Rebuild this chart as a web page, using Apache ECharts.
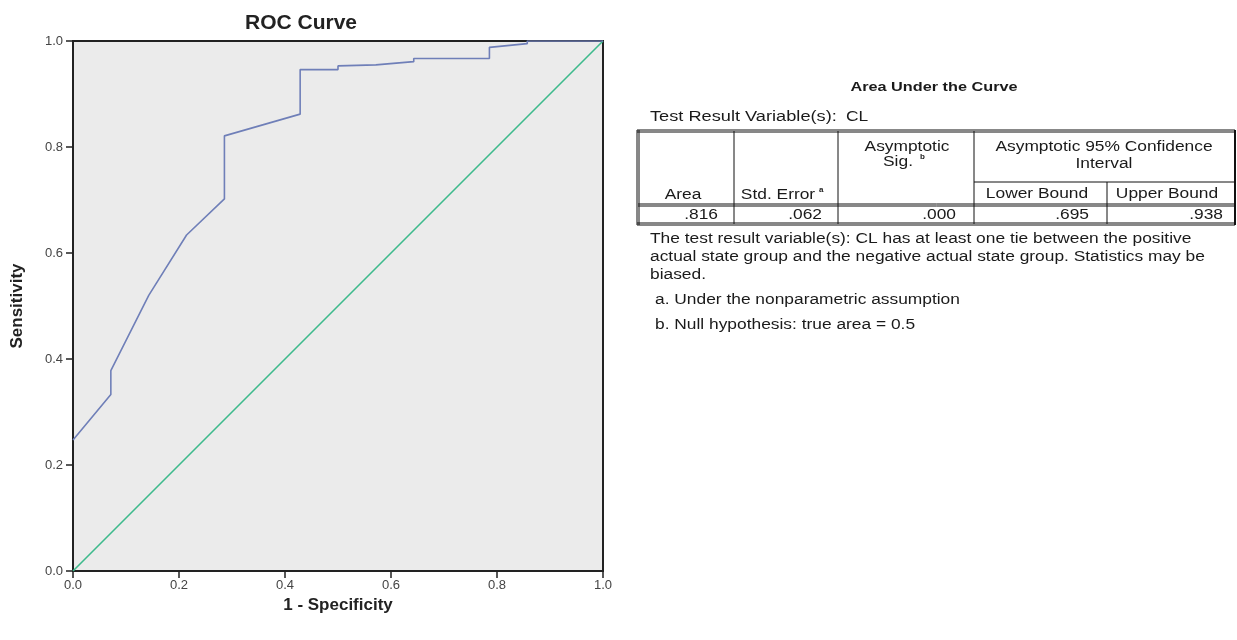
<!DOCTYPE html>
<html>
<head>
<meta charset="utf-8">
<script src="https://cdn.jsdelivr.net/npm/echarts@6/dist/echarts.min.js"></script>
<style>html,body{margin:0;padding:0;background:#fff}#c{width:1237px;height:640px}</style>
</head>
<body>
<div id="c"></div>
<script>
// ROC curve points (1 - specificity, sensitivity)
const rocX = [0, 0.0714, 0.0714, 0.1429, 0.2143, 0.2857, 0.2857, 0.4286, 0.4286, 0.5, 0.5, 0.5714, 0.6429, 0.6429, 0.7857, 0.7857, 0.8571, 0.8571, 1];
const rocY = [0.247, 0.333, 0.378, 0.52, 0.634, 0.702, 0.821, 0.862, 0.946, 0.946, 0.953, 0.955, 0.961, 0.967, 0.967, 0.988, 0.995, 1, 1];
// reference diagonal
const refX = [0, 1];
const refY = [0, 1];
// AUC table
const tableTitle = 'Area Under the Curve';
const testVarLabel = 'Test Result Variable(s):';
const testVar = 'CL';
const tableValues = ['.816', '.062', '.000', '.695', '.938'];
const notes = [
  'The test result variable(s): CL has at least one tie between the positive',
  'actual state group and the negative actual state group. Statistics may be',
  'biased.'
];
const footnotes = ['a. Under the nonparametric assumption', 'b. Null hypothesis: true area = 0.5'];

const FONT = 'Liberation Sans, Arial, sans-serif';
const TC = '#1a1a1a';
const SX = 1.24;
const g = [];
function txt(x, y, s, opt) {
  opt = opt || {};
  g.push({type: 'text', x: x, y: y, scaleX: opt.sx || SX, silent: true, style: {
    text: s, fill: opt.fill || TC, font: (opt.bold ? 'bold ' : '') + (opt.size || 14) + 'px ' + FONT,
    textAlign: opt.align || 'left', textVerticalAlign: 'middle'
  }});
}
function ln(x1, y1, x2, y2, w) {
  g.push({type: 'line', silent: true, shape: {x1: x1, y1: y1, x2: x2, y2: y2}, style: {stroke: '#111', lineWidth: w || 1}});
}
// table geometry
const cols = [638, 734, 838, 974, 1107, 1235];
const T = 131, SUB = 182, HB = 205, DB = 224;
txt(934, 87, tableTitle, {bold: true, size: 13, align: 'center', sx: 1.25});
txt(650, 117, testVarLabel, {sx: 1.3});
txt(846, 117, testVar);
// borders
ln(cols[0] - 1, T - 1, cols[5], T - 1, 1);
ln(cols[0] - 1, T + 1, cols[5], T + 1, 1);
ln(cols[0] - 1, T - 1, cols[0] - 1, DB + 1, 1);
ln(cols[0] + 1, T - 1, cols[0] + 1, DB + 1, 1);
ln(cols[5], T - 1, cols[5], DB + 1, 2);
for (let i = 1; i < 4; i++) ln(cols[i], T, cols[i], DB, 1);
ln(cols[4], SUB, cols[4], DB, 1);
ln(cols[3], SUB, cols[5], SUB, 1);
ln(cols[0], HB - 1, cols[5], HB - 1, 1);
ln(cols[0], HB + 1, cols[5], HB + 1, 1);
ln(cols[0] - 1, DB - 1, cols[5], DB - 1, 1);
ln(cols[0] - 1, DB + 1, cols[5], DB + 1, 1);
// headers
txt(683, 195, 'Area', {align: 'center'});
txt(778, 195, 'Std. Error', {align: 'center'});
txt(819, 190, 'a', {bold: true, size: 8, sx: 1});
txt(907, 147, 'Asymptotic', {align: 'center'});
txt(898, 162, 'Sig.', {align: 'center'});
txt(920, 157, 'b', {bold: true, size: 8, sx: 1});
txt(1104, 147, 'Asymptotic 95% Confidence', {align: 'center'});
txt(1104, 164, 'Interval', {align: 'center'});
txt(1037, 194, 'Lower Bound', {align: 'center'});
txt(1167, 194, 'Upper Bound', {align: 'center'});
const pads = [16, 16, 18, 18, 12];
for (let i = 0; i < 5; i++) txt(cols[i + 1] - pads[i], 215, tableValues[i], {align: 'right'});
notes.forEach((s, i) => txt(650, 239 + i * 18, s));
footnotes.forEach((s, i) => txt(655, 300 + i * 25, s));

const chart = echarts.init(document.getElementById('c'));
chart.setOption({
  backgroundColor: '#fff',
  animation: false,
  title: {text: 'ROC Curve', left: 296, top: 8, textAlign: 'center',
    textStyle: {fontFamily: FONT, fontSize: 21, fontWeight: 'bold', color: '#222'}},
  grid: {left: 73, top: 41, width: 530, height: 530, show: true, backgroundColor: '#ebebeb', borderColor: '#222', borderWidth: 2},
  xAxis: {type: 'value', min: 0, max: 1, interval: 0.2,
    name: '1 - Specificity', nameLocation: 'middle', nameGap: 23,
    nameTextStyle: {fontFamily: FONT, fontSize: 17, fontWeight: 'bold', color: '#222'},
    axisLine: {show: true, lineStyle: {color: '#222', width: 2}},
    axisTick: {show: true, length: 7, lineStyle: {color: '#222', width: 1.5}},
    axisLabel: {formatter: v => v.toFixed(1), fontFamily: FONT, fontSize: 13, color: '#444', margin: 8},
    splitLine: {show: false}},
  yAxis: {type: 'value', min: 0, max: 1, interval: 0.2,
    name: 'Sensitivity', nameLocation: 'middle', nameGap: 47,
    nameTextStyle: {fontFamily: FONT, fontSize: 17, fontWeight: 'bold', color: '#222'},
    axisLine: {show: true, lineStyle: {color: '#222', width: 2}},
    axisTick: {show: true, length: 7, lineStyle: {color: '#222', width: 1.5}},
    axisLabel: {formatter: v => v.toFixed(1), fontFamily: FONT, fontSize: 13, color: '#444', margin: 10},
    splitLine: {show: false}},
  series: [
    {type: 'line', data: rocX.map((x, i) => [x, rocY[i]]), showSymbol: false, lineStyle: {color: '#6f7fb8', width: 1.6}, z: 3},
    {type: 'line', data: refX.map((x, i) => [x, refY[i]]), showSymbol: false, lineStyle: {color: '#3dba8c', width: 1.6}, z: 2}
  ],
  graphic: g
});
</script>
</body>
</html>
